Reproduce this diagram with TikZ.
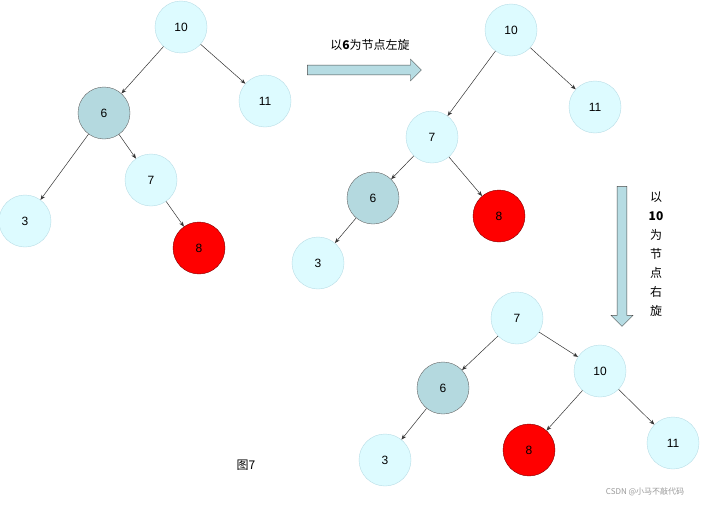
\documentclass[tikz,border=0pt]{standalone}
\usepackage{fontspec}
\setmainfont{Liberation Sans}
\newfontfamily\cjk{Noto Sans CJK SC}
\usetikzlibrary{arrows.meta,shapes.arrows}
\definecolor{lc}{HTML}{DDFBFF}
\definecolor{lb}{HTML}{B8DDE6}
\definecolor{gc}{HTML}{B4D9DF}
\definecolor{ar}{HTML}{B6DCE3}
\tikzset{
 nd/.style={circle,minimum size=52pt,inner sep=0pt,draw=lb,fill=lc,font=\fontsize{12pt}{14pt}\selectfont},
 gn/.style={nd,draw=black!60,fill=gc},
 rn/.style={nd,draw=red!50!black,fill=red},
 ed/.style={-{Stealth[length=5pt,width=4pt]},black!80,line width=0.5pt}
}
\begin{document}
\begin{tikzpicture}[x=1pt,y=-1pt]
\useasboundingbox[fill=white] (0,0) rectangle (717,506);
% tree 1
\node[nd] (a10) at (181,27) {10};
\node[nd] (a11) at (265,101) {11};
\node[gn] (a6) at (104,113) {6};
\node[nd] (a7) at (151,180) {7};
\node[nd] (a3) at (25,221) {3};
\node[rn] (a8) at (199,248) {8};
\draw[ed] (a10)--(a6); \draw[ed] (a10)--(a11);
\draw[ed] (a6)--(a3); \draw[ed] (a6)--(a7); \draw[ed] (a7)--(a8);
% tree 2
\node[nd] (b10) at (511,30) {10};
\node[nd] (b11) at (595,107) {11};
\node[nd] (b7) at (432,137) {7};
\node[gn] (b6) at (373,198) {6};
\node[rn] (b8) at (499,216) {8};
\node[nd] (b3) at (318,263) {3};
\draw[ed] (b10)--(b7); \draw[ed] (b10)--(b11);
\draw[ed] (b7)--(b6); \draw[ed] (b7)--(b8); \draw[ed] (b6)--(b3);
% tree 3
\node[nd] (c7) at (517,318) {7};
\node[nd] (c10) at (600,371) {10};
\node[gn] (c6) at (443,388) {6};
\node[rn] (c8) at (529,450) {8};
\node[nd] (c11) at (673,443) {11};
\node[nd] (c3) at (385,460) {3};
\draw[ed] (c7)--(c6); \draw[ed] (c7)--(c10);
\draw[ed] (c10)--(c8); \draw[ed] (c10)--(c11); \draw[ed] (c6)--(c3);
% rotation arrows
\node[single arrow,draw=black!70,fill=ar,minimum height=114pt,minimum width=22pt,single arrow head extend=4pt,inner sep=3pt] (h) at (362,70) {};
\node[font=\cjk\fontsize{12pt}{14pt}\selectfont] (ht) at (370,45) {以\textbf{6}为节点左旋};
\node[single arrow,draw=black!70,fill=ar,minimum height=140pt,minimum width=22pt,single arrow head extend=4pt,inner sep=3pt,shape border rotate=270] (v) at (622,254) {};
\node[font=\cjk\fontsize{12pt}{19pt}\selectfont,align=center] (vt) at (656,254) {以\\\textbf{10}\\为\\节\\点\\右\\旋};
\node[font=\cjk\fontsize{12pt}{14pt}\selectfont] (cap) at (246,465) {图7};
\node[font=\cjk\fontsize{8pt}{10pt}\selectfont,text=black!40] (wm) at (645,492) {CSDN @小马不敲代码};
\end{tikzpicture}
\end{document}
